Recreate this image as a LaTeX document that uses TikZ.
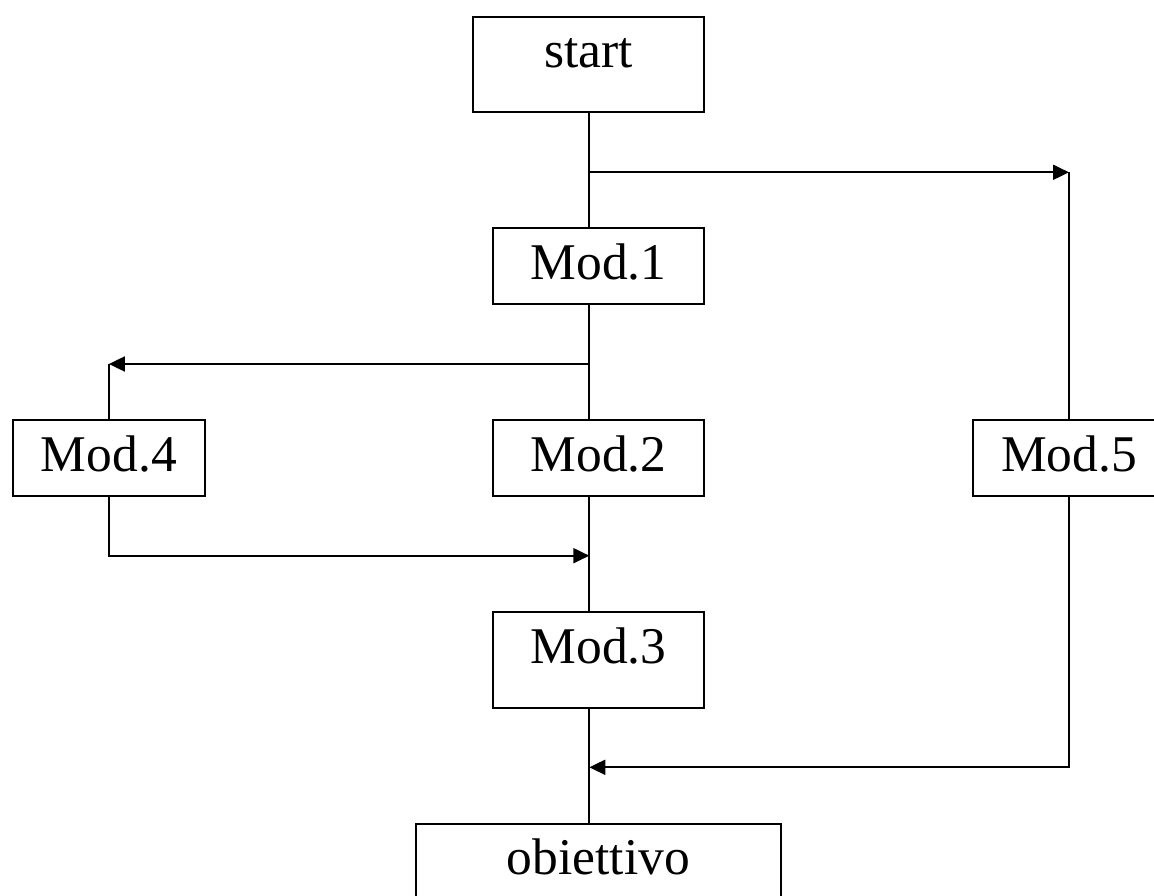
\documentclass[tikz,border=0pt]{standalone}
\usepackage{fontspec}
\setmainfont{Liberation Serif}
\usetikzlibrary{calc,arrows.meta}

\tikzset{
	modbox/.style={draw, line width=1pt, inner sep=0pt, anchor=north, text height=25.5pt, text depth=12.5pt},
	tallbox/.style={modbox, text depth=22.3pt},
	flow/.style={line width=1pt},
	flowarrow/.style={flow, -{Triangle[length=8pt,width=7.5pt]}}
}

\begin{document}
\begin{tikzpicture}[x=0.5pt,y=0.5pt,font=\fontsize{25.75}{30}\selectfont]
				\useasboundingbox (0,0) rectangle (1154,895);
				\coordinate (trunk) at (589.3,0);
				
				%boxes
				\node[tallbox, minimum width=115.5pt] (start) at (588.8,879.3) {start};
				\node[modbox, minimum width=105.8pt] (mod1) at (598.5,667.7) {Mod.1};
				\node[modbox, minimum width=105.8pt] (mod2) at (598.5,476) {Mod.2};
				\node[tallbox, minimum width=105.8pt] (mod3) at (598.5,284) {Mod.3};
				\node[modbox, minimum width=96.2pt] (mod4) at (108.9,476) {Mod.4};
				\node[modbox, minimum width=96.3pt] (mod5) at (1069,476) {Mod.5};
				\node[tallbox, minimum width=182.4pt] (goal) at (598.4,72.3) {obiettivo};
				
				%branch points on the trunk
				\coordinate (b1) at (589.3,722.7);
				\coordinate (b2) at (589.3,531);
				\coordinate (b3) at (589.3,339.3);
				\coordinate (b4) at (589.3,127.7);
				
				\foreach \a/\b in {start/mod1, mod1/mod2, mod2/mod3, mod3/goal}{
					\draw[flow] (trunk |- \a.south) -- (trunk |- \b.north);
				}
				
				%side paths
				\draw[flowarrow] (b1) -- (b1 -| mod5.north);
				\draw[flow] (b1 -| mod5.north) -- (mod5.north);
				\draw[flowarrow] (b2) -- (b2 -| mod4.north);
				\draw[flow] (b2 -| mod4.north) -- (mod4.north);
				\draw[flowarrow] (mod4.south) |- (b3);
				\draw[flowarrow] (mod5.south) |- (b4);
			
			\end{tikzpicture}
\end{document}
